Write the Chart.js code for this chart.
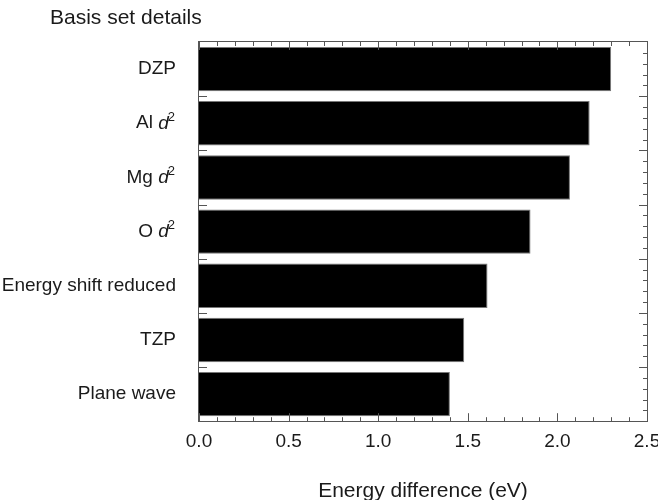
<!DOCTYPE html>
<html>
<head>
<meta charset="utf-8">
<script src="https://cdn.jsdelivr.net/npm/chart.js@4/dist/chart.umd.min.js"></script>
<style>
  html, body { margin: 0; padding: 0; background: #fff; }
  #wrap { width: 658px; height: 500px; }
</style>
</head>
<body>
<div id="wrap"><canvas id="chart" width="658" height="500"></canvas></div>
<script>
// basis set variants, top to bottom
const categories = ['DZP', 'Al d2', 'Mg d2', 'O d2', 'Energy shift reduced', 'TZP', 'Plane wave'];
// label pieces: plain text, italic letter, superscript
const labelParts = [
  ['DZP', '', ''],
  ['Al ', 'd', '2'],
  ['Mg ', 'd', '2'],
  ['O ', 'd', '2'],
  ['Energy shift reduced', '', ''],
  ['TZP', '', ''],
  ['Plane wave', '', '']
];
const energyDiff = [2.30, 2.18, 2.07, 1.85, 1.61, 1.48, 1.40];
const xTicks = [0, 0.5, 1.0, 1.5, 2.0, 2.5];

const FONT = "'Liberation Sans', Arial, sans-serif";
const TEXT = '#1a1a1a';

const framePlugin = {
  id: 'frame',
  afterDraw(chart) {
    const ctx = chart.ctx;
    const a = chart.chartArea;
    const xs = chart.scales.x;
    const ys = chart.scales.y;
    ctx.save();
    ctx.strokeStyle = '#555';
    ctx.lineWidth = 1;
    ctx.strokeRect(Math.round(a.left) - 0.5, Math.round(a.top) - 0.5,
      Math.round(a.right - a.left) + 1, Math.round(a.bottom - a.top) + 1);

    // x ticks top and bottom, pointing inward
    for (let i = 0; i <= 25; i++) {
      const v = i / 10;
      const px = Math.round(xs.getPixelForValue(v)) + 0.5;
      const len = i % 5 === 0 ? 8 : 4;
      ctx.beginPath();
      ctx.moveTo(px, a.bottom); ctx.lineTo(px, a.bottom - len);
      ctx.moveTo(px, a.top); ctx.lineTo(px, a.top + len);
      ctx.stroke();
    }
    // y ticks: band edges on left, edges plus minors on right
    const n = categories.length;
    for (let i = 0; i < n; i++) {
      const y0 = ys.getPixelForValue(i - 0.5);
      const y1 = ys.getPixelForValue(i + 0.5);
      for (let k = 0; k < 5; k++) {
        const py = Math.round(y0 + (y1 - y0) * k / 5) + 0.5;
        const len = k === 0 ? 8 : 4;
        if (k === 0 && i === 0) continue;
        ctx.beginPath();
        ctx.moveTo(a.right, py); ctx.lineTo(a.right - len, py);
        if (k === 0) { ctx.moveTo(a.left, py); ctx.lineTo(a.left + 8, py); }
        ctx.stroke();
      }
    }

    // category labels with italic d and superscript
    ctx.fillStyle = TEXT;
    ctx.textBaseline = 'middle';
    ctx.textAlign = 'left';
    const right = a.left - 23;
    labelParts.forEach((p, i) => {
      const cy = ys.getPixelForValue(i);
      const fMain = '19px ' + FONT;
      const fIt = 'italic 19px ' + FONT;
      const fSup = '13px ' + FONT;
      ctx.font = fSup; const wSup = p[2] ? ctx.measureText(p[2]).width : 0;
      ctx.font = fIt; const wIt = p[1] ? ctx.measureText(p[1]).width : 0;
      ctx.font = fMain; const wMain = ctx.measureText(p[0]).width;
      let x = right - wSup - wIt - wMain;
      ctx.fillText(p[0], x, cy);
      x += wMain;
      if (p[1]) { ctx.font = fIt; ctx.fillText(p[1], x, cy); x += wIt; }
      if (p[2]) { ctx.font = fSup; ctx.fillText(p[2], x - 1, cy - 6); }
    });

    // axis heading above labels
    ctx.font = '21px ' + FONT;
    ctx.textBaseline = 'alphabetic';
    ctx.fillText('Basis set details', 50, 24);
    ctx.restore();
  }
};

new Chart(document.getElementById('chart'), {
  type: 'bar',
  data: {
    labels: categories,
    datasets: [{
      data: energyDiff,
      backgroundColor: '#000',
      borderColor: '#777',
      borderWidth: 1,
      categoryPercentage: 1,
      barPercentage: 0.82
    }]
  },
  options: {
    indexAxis: 'y',
    responsive: false,
    animation: false,
    layout: { padding: { left: 199, right: 11, top: 42, bottom: 0 } },
    plugins: { legend: { display: false }, tooltip: { enabled: false } },
    scales: {
      x: {
        min: 0, max: 2.5,
        afterBuildTicks(scale) { scale.ticks = xTicks.map(v => ({ value: v })); },
        // let the 2.5 label hang past the plot edge like the original
        afterFit(scale) { scale.paddingRight = 0; scale.paddingLeft = 0; },
        grid: { display: false, drawTicks: false, tickLength: 0 },
        border: { display: false },
        ticks: {
          padding: 11,
          color: TEXT,
          font: { family: FONT, size: 19, lineHeight: 1.0 },
          maxRotation: 0,
          callback: v => Number(v).toFixed(1)
        },
        title: {
          display: true,
          text: 'Energy difference (eV)',
          color: TEXT,
          font: { family: FONT, size: 21, lineHeight: 0.8 },
          padding: { top: 21, bottom: 0 }
        }
      },
      y: {
        display: false,
        offset: true
      }
    }
  },
  plugins: [framePlugin]
});
</script>
</body>
</html>
